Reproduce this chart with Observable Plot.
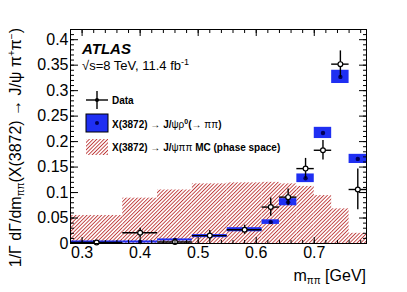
<!DOCTYPE html>
<html><head><meta charset="utf-8">
<script src="https://cdn.jsdelivr.net/npm/d3@7"></script>
<script src="https://cdn.jsdelivr.net/npm/@observablehq/plot@0.6"></script>
<style>
html,body{margin:0;padding:0;background:#fff;}
#chart svg{display:block;}
</style></head><body><div id="chart"></div>
<script>
// ---- data ----
const binLo = [0.28, 0.37, 0.43, 0.49, 0.55, 0.61, 0.64, 0.67, 0.70, 0.73, 0.76];
const binHi = [0.37, 0.43, 0.49, 0.55, 0.61, 0.64, 0.67, 0.70, 0.73, 0.76, 0.79];
const dataVal = [0.002, 0.021, 0.003, 0.0155, 0.027, 0.0715, 0.091, 0.147, 0.183, 0.352, 0.106];
const dataErr = [0.003, 0.009, 0.005, 0.010, 0.009, 0.018, 0.016, 0.020, 0.019, 0.026, 0.040];
const modelVal = [0.003, 0.003, 0.007, 0.0145, 0.027, 0.042, 0.081, 0.128, 0.217, 0.327, 0.166];
const modelErr = [0.002, 0.002, 0.002, 0.003, 0.004, 0.0045, 0.007, 0.0085, 0.011, 0.013, 0.009];
const mcVal = [0.055, 0.089, 0.105, 0.117, 0.119, 0.120, 0.117, 0.112, 0.094, 0.068, 0.020];
const xTicks = [0.3, 0.4, 0.5, 0.6, 0.7];
const xTickLabels = ["0.3", "0.4", "0.5", "0.6", "0.7"];
const yTicks = [0, 0.05, 0.1, 0.15, 0.2, 0.25, 0.3, 0.35, 0.4];
const yTickLabels = ["0", "0.05", "0.1", "0.15", "0.2", "0.25", "0.3", "0.35", "0.4"];
const xMinor = d3.range(0, 26).map(i => +(0.28 + i * 0.02).toFixed(2));
const yMinor = d3.range(0, 43).map(i => +(i * 0.01).toFixed(2));

const rows = binLo.map((lo, i) => ({
  lo, hi: binHi[i], c: (lo + binHi[i]) / 2,
  d: dataVal[i], de: dataErr[i], m: modelVal[i], me: modelErr[i], mc: mcVal[i]
}));

const FONT = "Liberation Sans, Arial, Helvetica, sans-serif";
const BLUE = "#1f2ff2";
const W = 407, H = 292, ML = 70, MR = 41, MT = 29, MB = 49;

const plot = Plot.plot({
  width: W, height: H,
  marginLeft: ML, marginRight: MR, marginTop: MT, marginBottom: MB,
  style: {fontFamily: FONT, fontSize: "16px", background: "white", color: "black", overflow: "visible"},
  x: {domain: [0.28, 0.79], axis: null},
  y: {domain: [0, 0.42], axis: null},
  marks: [
    Plot.rectY(rows, {x1: "lo", x2: "hi", y: "mc", fill: "url(#hatch)"}),
    Plot.rect(rows, {x1: "lo", x2: "hi", y1: d => d.m - d.me, y2: d => d.m + d.me, fill: BLUE, clip: true}),
    Plot.dot(rows, {x: "c", y: "m", r: 2.2, fill: "#00005a"}),
    Plot.ruleY(rows, {x1: "lo", x2: "hi", y: "d", stroke: "black", strokeWidth: 1.4}),
    Plot.ruleX(rows, {x: "c", y1: d => d.d - d.de, y2: d => d.d + d.de, stroke: "black", strokeWidth: 1.4, clip: true}),
    Plot.dot(rows, {x: "c", y: "d", r: 2.4, fill: "white", stroke: "black", strokeWidth: 1.2}),
    Plot.frame({stroke: "black", strokeWidth: 1}),
    // labels
    Plot.axisX(xTicks, {anchor: "bottom", tickSize: 0, tickPadding: 3, fontSize: 16,
      tickFormat: d => xTickLabels[xTicks.indexOf(d)], label: null}),
    Plot.axisY(yTicks, {anchor: "left", tickSize: 0, tickPadding: 2, fontSize: 16,
      tickFormat: d => yTickLabels[yTicks.indexOf(d)], label: null}),
    // inward ticks
    Plot.axisX(xTicks, {anchor: "bottom", tickSize: -6, tickFormat: () => "", label: null}),
    Plot.axisX(xTicks, {anchor: "top", tickSize: -6, tickFormat: () => "", label: null}),
    Plot.axisX(xMinor, {anchor: "bottom", tickSize: -3, tickFormat: () => "", label: null}),
    Plot.axisX(xMinor, {anchor: "top", tickSize: -3, tickFormat: () => "", label: null}),
    Plot.axisY(yTicks, {anchor: "left", tickSize: -8, tickFormat: () => "", label: null}),
    Plot.axisY(yTicks, {anchor: "right", tickSize: -8, tickFormat: () => "", label: null}),
    Plot.axisY(yMinor, {anchor: "left", tickSize: -4, tickFormat: () => "", label: null}),
    Plot.axisY(yMinor, {anchor: "right", tickSize: -4, tickFormat: () => "", label: null})
  ]
});

const svg = d3.select(plot);
const defs = svg.insert("defs", ":first-child");
const pat = defs.append("pattern").attr("id", "hatch").attr("patternUnits", "userSpaceOnUse")
  .attr("width", 2.6).attr("height", 2.6).attr("patternTransform", "rotate(45)");
pat.append("rect").attr("width", 2.6).attr("height", 2.6).attr("fill", "white");
pat.append("line").attr("x1", 0.5).attr("y1", 0).attr("x2", 0.5).attr("y2", 2.6)
  .attr("stroke", "#b82828").attr("stroke-width", 0.85);

const g = svg.append("g").attr("font-family", FONT).attr("fill", "black").attr("text-anchor", "start");

// axis titles
const xt = g.append("text").attr("x", W - MR).attr("y", 281).attr("text-anchor", "end").attr("font-size", 16);
xt.append("tspan").text("m");
xt.append("tspan").attr("font-size", 10).attr("dy", 3).text("ππ");
xt.append("tspan").attr("dy", -3).text(" [GeV]");

const yt = g.append("text").attr("transform", `translate(21,${MT - 1}) rotate(-90)`)
  .attr("text-anchor", "end").attr("font-size", 16);
yt.append("tspan").text("1/Γ dΓ/dm");
yt.append("tspan").attr("font-size", 10).attr("dy", 3).text("ππ");
yt.append("tspan").attr("dy", -3).text("(X(3872) → J/ψ π");
yt.append("tspan").attr("font-size", 10).attr("dy", -6).text("+");
yt.append("tspan").attr("dy", 6).text("π");
yt.append("tspan").attr("font-size", 10).attr("dy", -6).text("−");
yt.append("tspan").attr("dy", 6).text(")");

// ATLAS label
g.append("text").attr("x", 82).attr("y", 54).attr("font-size", 15)
  .attr("font-weight", "bold").attr("font-style", "italic").text("ATLAS");
const en = g.append("text").attr("x", 82).attr("y", 70).attr("font-size", 13);
en.append("tspan").text("√s=8 TeV, 11.4 fb");
en.append("tspan").attr("font-size", 9).attr("dy", -5).text("-1");

// legend
const lg = g.append("g");
lg.append("line").attr("x1", 86).attr("x2", 108).attr("y1", 100).attr("y2", 100).attr("stroke", "black").attr("stroke-width", 1.4);
lg.append("line").attr("x1", 97).attr("x2", 97).attr("y1", 91).attr("y2", 109).attr("stroke", "black").attr("stroke-width", 1.4);
lg.append("circle").attr("cx", 97).attr("cy", 100).attr("r", 2).attr("fill", "black");
lg.append("rect").attr("x", 86).attr("y", 114).attr("width", 22).attr("height", 18).attr("fill", BLUE).attr("stroke", "black").attr("stroke-width", 1);
lg.append("circle").attr("cx", 97).attr("cy", 123).attr("r", 2).attr("fill", "#00005a");
lg.append("rect").attr("x", 86).attr("y", 139).attr("width", 22).attr("height", 16).attr("fill", "url(#hatch)");

const t1 = lg.append("text").attr("x", 112).attr("y", 104).attr("font-size", 10).attr("font-weight", "bold").text("Data");
const t2 = lg.append("text").attr("x", 112).attr("y", 128).attr("font-size", 10).attr("font-weight", "bold");
t2.append("tspan").text("X(3872) ");
t2.append("tspan").attr("font-weight", "normal").text("→");
t2.append("tspan").text(" J/");
t2.append("tspan").attr("font-weight", "normal").text("ψρ");
t2.append("tspan").attr("font-size", 7).attr("dy", -4).text("0");
t2.append("tspan").attr("dy", 4).text("(");
t2.append("tspan").attr("font-weight", "normal").text("→ ππ");
t2.append("tspan").text(")");
const t3 = lg.append("text").attr("x", 112).attr("y", 151).attr("font-size", 10).attr("font-weight", "bold");
t3.append("tspan").text("X(3872) ");
t3.append("tspan").attr("font-weight", "normal").text("→");
t3.append("tspan").text(" J/");
t3.append("tspan").attr("font-weight", "normal").text("ψππ");
t3.append("tspan").text(" MC (phase space)");

document.getElementById("chart").appendChild(plot);
</script>
</body></html>
